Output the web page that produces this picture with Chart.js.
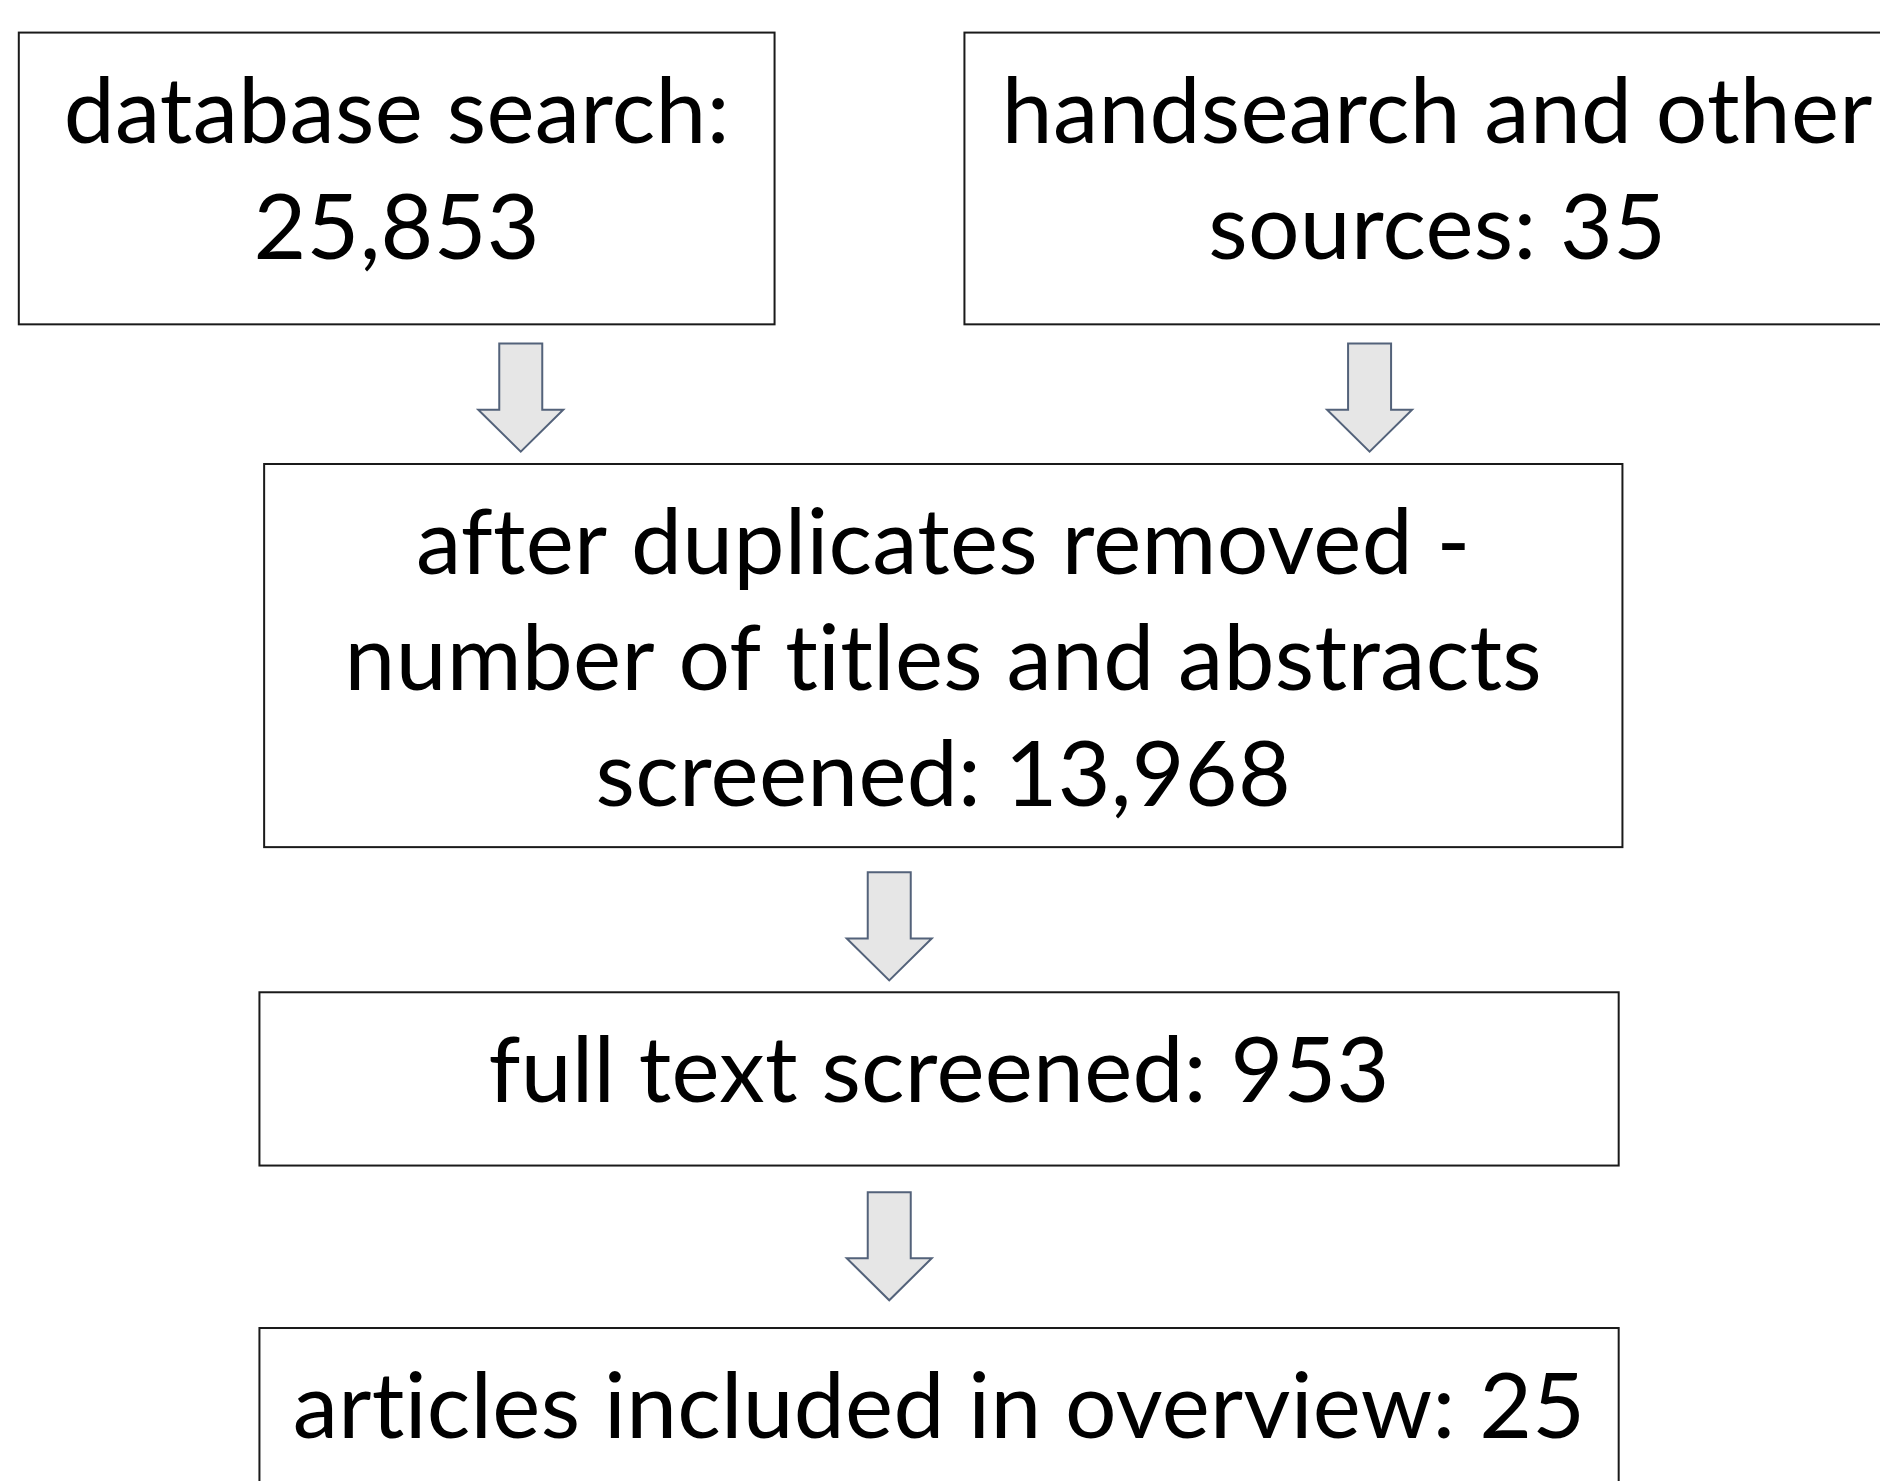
<!DOCTYPE html>
<html>
<head>
<meta charset="utf-8">
<script src="https://cdn.jsdelivr.net/npm/chart.js@4.4.1/dist/chart.umd.min.js"></script>
<style>
  html, body { margin: 0; padding: 0; background: #fff; overflow: hidden; }
  #wrap { width: 1880px; height: 1481px; }
</style>
</head>
<body>
<div id="wrap"><canvas id="flow-chart"></canvas></div>
<script>
// stage texts, broken into lines as in the original boxes; the count ends the last line
var stageLines = [
  ["database search:", ""],
  ["handsearch and other", "sources: "],
  ["after duplicates removed -", "number of titles and abstracts", "screened: "],
  ["full text screened: "],
  ["articles included in overview: "]
];
var stageCounts = [25853, 35, 13968, 953, 25];

// layout of the boxes in chart units (x 0-100 left to right, y 0-100 top to bottom)
var boxLeft = [1.0, 51.3, 14.05, 13.8, 13.8];
var boxRight = [41.2, 101.6, 86.3, 86.1, 86.1];
var boxTop = [2.2, 2.2, 31.33, 67.0, 89.67];
var boxBottom = [21.9, 21.9, 57.2, 78.7, 101.5];

// arrows between the stages
var arrowX = [27.7, 72.85, 47.3, 47.3];
var arrowTop = [23.2, 23.2, 58.9, 80.5];
var arrowTip = [30.5, 30.5, 66.2, 87.8];

var fmt = new Intl.NumberFormat("en-US");

var flowPlugin = {
  id: "flow",
  afterDatasetsDraw: function (chart, args, opts) {
    var ctx = chart.ctx;
    var xs = chart.scales.x;
    var ys = chart.scales.y;
    ctx.save();

    // arrows
    ctx.lineJoin = "miter";
    ctx.lineWidth = opts.arrowLine;
    ctx.strokeStyle = opts.arrowStroke;
    ctx.fillStyle = opts.arrowFill;
    for (var i = 0; i < arrowX.length; i++) {
      var cx = xs.getPixelForValue(arrowX[i]);
      var t = ys.getPixelForValue(arrowTop[i]);
      var b = ys.getPixelForValue(arrowTip[i]);
      var hb = b - opts.headLength;
      var s = opts.shaftWidth / 2, h = opts.headWidth / 2;
      ctx.beginPath();
      ctx.moveTo(cx - s, t);
      ctx.lineTo(cx + s, t);
      ctx.lineTo(cx + s, hb);
      ctx.lineTo(cx + h, hb);
      ctx.lineTo(cx, b);
      ctx.lineTo(cx - h, hb);
      ctx.lineTo(cx - s, hb);
      ctx.closePath();
      ctx.fill();
      ctx.stroke();
    }

    // boxes and their text
    for (var j = 0; j < stageLines.length; j++) {
      var l = xs.getPixelForValue(boxLeft[j]);
      var r = xs.getPixelForValue(boxRight[j]);
      var top = ys.getPixelForValue(boxTop[j]);
      var bot = ys.getPixelForValue(boxBottom[j]);
      ctx.lineWidth = opts.boxLine;
      ctx.strokeStyle = opts.boxStroke;
      ctx.strokeRect(l, top, r - l, bot - top);

      ctx.fillStyle = opts.textColor;
      ctx.font = opts.font;
      ctx.letterSpacing = "0.3px"; // keeps Lato from joining "ti" / "ft"
      ctx.textAlign = "center";
      ctx.textBaseline = "alphabetic";
      var lines = stageLines[j].slice();
      lines[lines.length - 1] += fmt.format(stageCounts[j]);
      for (var k = 0; k < lines.length; k++) {
        ctx.fillText(lines[k], (l + r) / 2, top + opts.firstBaseline + k * opts.lineHeight);
      }
    }
    ctx.restore();
  }
};

var ctx = document.getElementById("flow-chart");

new Chart(ctx, {
  type: "scatter",
  data: {
    datasets: [
      {
        label: "stages",
        data: stageCounts.map(function (c, i) {
          return { x: (boxLeft[i] + boxRight[i]) / 2, y: (boxTop[i] + boxBottom[i]) / 2 };
        }),
        pointRadius: 0,
        pointHoverRadius: 0
      }
    ]
  },
  options: {
    responsive: true,
    maintainAspectRatio: false,
    animation: false,
    layout: { padding: 0 },
    plugins: {
      legend: { display: false },
      tooltip: { enabled: false },
      flow: {
        font: "91px Lato",
        textColor: "#000",
        firstBaseline: 110,
        lineHeight: 116,
        boxLine: 2,
        boxStroke: "#1a1a1a",
        arrowLine: 2,
        arrowStroke: "#53627a",
        arrowFill: "#e6e6e6",
        shaftWidth: 43,
        headWidth: 85,
        headLength: 42
      }
    },
    scales: {
      x: { type: "linear", min: 0, max: 100, display: false },
      y: { type: "linear", min: 0, max: 100, reverse: true, display: false }
    }
  },
  plugins: [flowPlugin]
});
</script>
</body>
</html>
